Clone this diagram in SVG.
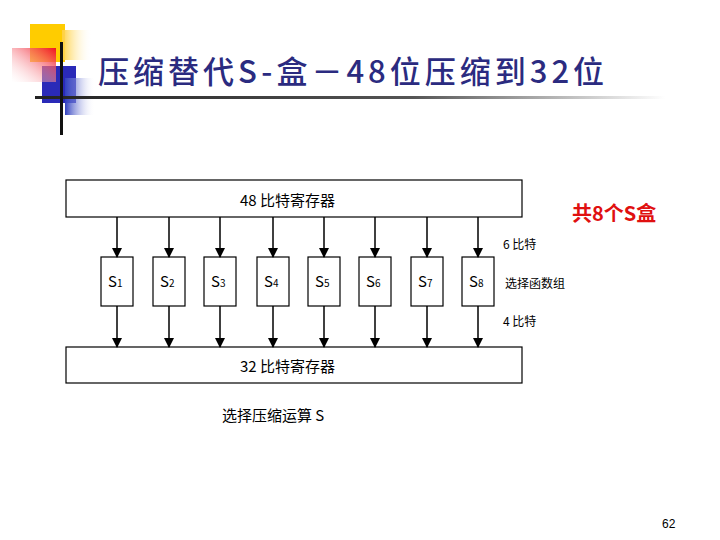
<svg xmlns="http://www.w3.org/2000/svg" width="720" height="540" viewBox="0 0 720 540">
<style>
.t{font-family:"Noto Sans CJK SC","Liberation Sans",sans-serif}
.box{fill:#fff;stroke:#000;stroke-width:1.2}
.c line{stroke:#000;stroke-width:1.5}
</style>
<defs>
<marker id="a" markerUnits="userSpaceOnUse" markerWidth="10" markerHeight="10" refX="9" refY="5" orient="auto" viewBox="0 0 10 10"><path d="M0,0 L10,5 L0,10Z" fill="#000"/></marker>
<linearGradient id="gy" x1="0" x2="1"><stop offset="0" stop-color="#ffd040"/><stop offset="1" stop-color="#fff" stop-opacity="0"/></linearGradient>
<linearGradient id="gr" x1="1" y1="0" x2="0" y2="1"><stop offset="0" stop-color="#f01020"/><stop offset="1" stop-color="#fff" stop-opacity="0.2"/></linearGradient>
<linearGradient id="gb" x1="0" x2="1"><stop offset="0" stop-color="#3040c0"/><stop offset="1" stop-color="#fff" stop-opacity="0"/></linearGradient>
<linearGradient id="gl" x1="0" x2="1"><stop offset="0" stop-color="#222"/><stop offset="0.6" stop-color="#555"/><stop offset="1" stop-color="#fff"/></linearGradient>
</defs>
<g id="deco">
<rect x="30" y="24" width="35" height="38" fill="#ffcc00"/>
<rect x="62" y="30" width="30" height="30" fill="url(#gy)"/>
<rect x="42" y="66" width="34" height="37" fill="#2a2ab8"/>
<rect x="65" y="78" width="30" height="37" fill="url(#gb)"/>
<rect x="12" y="48" width="44" height="34" fill="url(#gr)"/>
<rect x="35" y="96" width="630" height="3" fill="url(#gl)"/>
<rect x="60" y="42" width="3" height="93" fill="#111"/>
</g>
<text class="t" x="98" y="83" font-size="31" font-weight="500" letter-spacing="4" fill="#2b2b80">压缩替代S-盒－48位压缩到32位</text>
<g id="reg48"><rect class="box" x="66" y="180" width="456" height="37"/><text class="t" x="240" y="206" font-size="15">48 比特寄存器</text></g>
<g id="reg32"><rect class="box" x="66" y="347" width="456" height="36"/><text class="t" x="240" y="372" font-size="15">32 比特寄存器</text></g>
<g id="s1"><rect class="box" x="101" y="257" width="32" height="49"/><text class="t" x="108" y="287" font-size="15">S<tspan font-size="10">1</tspan></text></g>
<g id="s2"><rect class="box" x="153" y="257" width="32" height="49"/><text class="t" x="160" y="287" font-size="15">S<tspan font-size="10">2</tspan></text></g>
<g id="s3"><rect class="box" x="204" y="257" width="32" height="49"/><text class="t" x="211" y="287" font-size="15">S<tspan font-size="10">3</tspan></text></g>
<g id="s4"><rect class="box" x="257" y="257" width="32" height="49"/><text class="t" x="264" y="287" font-size="15">S<tspan font-size="10">4</tspan></text></g>
<g id="s5"><rect class="box" x="308" y="257" width="32" height="49"/><text class="t" x="315" y="287" font-size="15">S<tspan font-size="10">5</tspan></text></g>
<g id="s6"><rect class="box" x="359" y="257" width="32" height="49"/><text class="t" x="366" y="287" font-size="15">S<tspan font-size="10">6</tspan></text></g>
<g id="s7"><rect class="box" x="411" y="257" width="32" height="49"/><text class="t" x="418" y="287" font-size="15">S<tspan font-size="10">7</tspan></text></g>
<g id="s8"><rect class="box" x="462" y="257" width="32" height="49"/><text class="t" x="469" y="287" font-size="15">S<tspan font-size="10">8</tspan></text></g>
<g class="c" id="connectors">
<line x1="117" y1="217" x2="117" y2="257" marker-end="url(#a)"/><line x1="117" y1="306" x2="117" y2="347" marker-end="url(#a)"/>
<line x1="169" y1="217" x2="169" y2="257" marker-end="url(#a)"/><line x1="169" y1="306" x2="169" y2="347" marker-end="url(#a)"/>
<line x1="220" y1="217" x2="220" y2="257" marker-end="url(#a)"/><line x1="220" y1="306" x2="220" y2="347" marker-end="url(#a)"/>
<line x1="273" y1="217" x2="273" y2="257" marker-end="url(#a)"/><line x1="273" y1="306" x2="273" y2="347" marker-end="url(#a)"/>
<line x1="324" y1="217" x2="324" y2="257" marker-end="url(#a)"/><line x1="324" y1="306" x2="324" y2="347" marker-end="url(#a)"/>
<line x1="375" y1="217" x2="375" y2="257" marker-end="url(#a)"/><line x1="375" y1="306" x2="375" y2="347" marker-end="url(#a)"/>
<line x1="427" y1="217" x2="427" y2="257" marker-end="url(#a)"/><line x1="427" y1="306" x2="427" y2="347" marker-end="url(#a)"/>
<line x1="478" y1="217" x2="478" y2="257" marker-end="url(#a)"/><line x1="478" y1="306" x2="478" y2="347" marker-end="url(#a)"/>
</g>
<text class="t" x="503" y="249" font-size="12">6 比特</text>
<text class="t" x="505" y="288" font-size="12">选择函数组</text>
<text class="t" x="503" y="326" font-size="12">4 比特</text>
<text class="t" x="572" y="221" font-size="20" font-weight="bold" fill="#e01010">共8个S盒</text>
<text class="t" x="222" y="421" font-size="15">选择压缩运算 S</text>
<text x="662" y="528" font-size="12" font-family="Liberation Sans,sans-serif">62</text>
</svg>
